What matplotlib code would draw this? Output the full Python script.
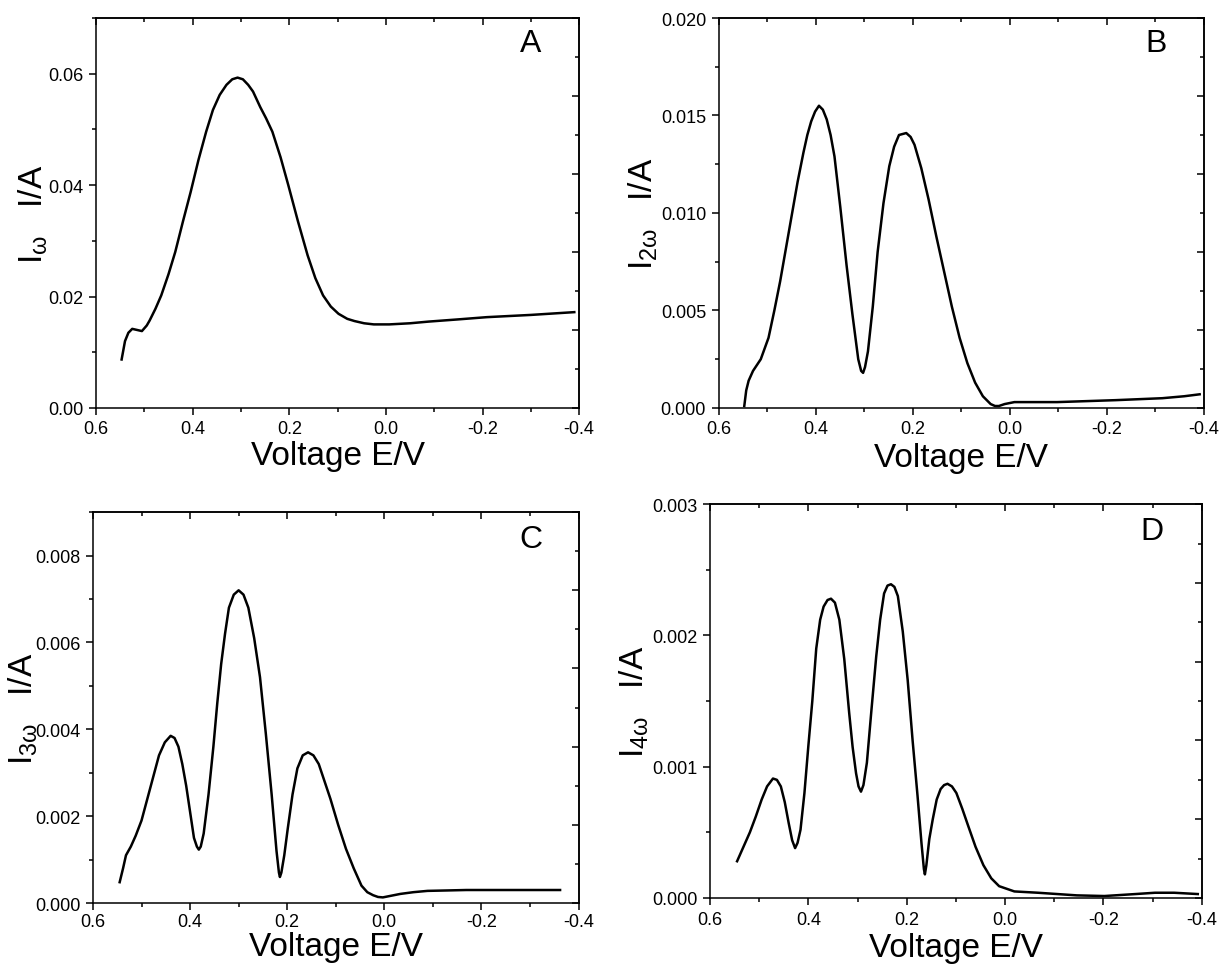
import matplotlib
matplotlib.use("Agg")
import matplotlib.pyplot as plt
from matplotlib.ticker import MultipleLocator, FormatStrFormatter, NullFormatter

plt.rcParams['font.family'] = ['Liberation Sans', 'DejaVu Sans']
plt.rcParams['axes.unicode_minus'] = False
plt.rcParams['mathtext.fontset'] = 'custom'
plt.rcParams['mathtext.rm'] = 'Liberation Sans'

# panel A: fundamental harmonic
a_volt = [0.547, 0.540, 0.533, 0.525, 0.515, 0.505, 0.495, 0.489, 0.477, 0.465,
          0.450, 0.436, 0.420, 0.404, 0.388, 0.372, 0.358, 0.344, 0.330, 0.318,
          0.307, 0.296, 0.285, 0.275, 0.260, 0.248, 0.235, 0.218, 0.202, 0.182,
          0.162, 0.146, 0.130, 0.114, 0.098, 0.080, 0.065, 0.045, 0.025, 0.005,
          -0.007, -0.05, -0.088, -0.15, -0.209, -0.30, -0.39]
a_curr = [0.0087, 0.0120, 0.0135, 0.0142, 0.0140, 0.0138, 0.0148, 0.0157, 0.0178, 0.0202,
          0.0240, 0.0280, 0.0335, 0.0388, 0.0445, 0.0496, 0.0535, 0.0562, 0.0580, 0.0590,
          0.0593, 0.0590, 0.0580, 0.0568, 0.0540, 0.0520, 0.0496, 0.0450, 0.0400, 0.0335,
          0.0274, 0.0233, 0.0202, 0.0182, 0.0169, 0.0160, 0.0156, 0.0152, 0.0150, 0.0150,
          0.0150, 0.0152, 0.0155, 0.0159, 0.0163, 0.0167, 0.0172]

# panel B: 2nd harmonic
b_volt = [0.547, 0.543, 0.538, 0.529, 0.513, 0.497, 0.485, 0.473, 0.461, 0.449,
          0.437, 0.425, 0.417, 0.409, 0.401, 0.393, 0.385, 0.377, 0.369, 0.361,
          0.349, 0.336, 0.324, 0.312, 0.306, 0.302, 0.298, 0.292, 0.282, 0.272,
          0.260, 0.248, 0.238, 0.228, 0.213, 0.204, 0.196, 0.182, 0.167, 0.151,
          0.135, 0.119, 0.103, 0.087, 0.071, 0.055, 0.039, 0.030, 0.022, 0.010,
          -0.01, -0.098, -0.219, -0.315, -0.360, -0.392]
b_curr = [0.0001, 0.0009, 0.0014, 0.0019, 0.0025, 0.0036, 0.0050, 0.0065, 0.0082, 0.0099,
          0.0116, 0.0131, 0.0140, 0.0147, 0.0152, 0.0155, 0.0153, 0.0148, 0.0140, 0.0129,
          0.0103, 0.0073, 0.0048, 0.0025, 0.0019, 0.0018, 0.0021, 0.0029, 0.0052, 0.0080,
          0.0105, 0.0124, 0.0134, 0.0140, 0.0141, 0.0139, 0.0135, 0.0123, 0.0107, 0.0088,
          0.0070, 0.0052, 0.0036, 0.0023, 0.0013, 0.0006, 0.0002, 0.0001, 0.0001, 0.0002,
          0.0003, 0.0003, 0.0004, 0.0005, 0.0006, 0.0007]

# panel C: 3rd harmonic
c_volt = [0.545, 0.538, 0.532, 0.522, 0.512, 0.500, 0.488, 0.476, 0.464, 0.452,
          0.440, 0.432, 0.424, 0.416, 0.408, 0.400, 0.392, 0.386, 0.382, 0.378,
          0.372, 0.362, 0.352, 0.344, 0.336, 0.328, 0.320, 0.310, 0.300, 0.290,
          0.280, 0.268, 0.256, 0.244, 0.232, 0.222, 0.217, 0.215, 0.212, 0.206,
          0.199, 0.189, 0.179, 0.168, 0.157, 0.146, 0.135, 0.123, 0.111, 0.095,
          0.079, 0.063, 0.047, 0.035, 0.023, 0.013, 0.003, -0.015, -0.033, -0.06,
          -0.089, -0.13, -0.169, -0.25, -0.362]
c_curr = [0.00048, 0.0008, 0.0011, 0.0013, 0.00155, 0.0019, 0.0024, 0.0029, 0.0034, 0.0037,
          0.00385, 0.0038, 0.0036, 0.0032, 0.0027, 0.0021, 0.0015, 0.0013, 0.00123, 0.0013,
          0.0016, 0.0025, 0.0036, 0.0046, 0.0055, 0.0062, 0.0068, 0.0071, 0.0072, 0.0071,
          0.0068, 0.0061, 0.0052, 0.0039, 0.0025, 0.0012, 0.0007, 0.0006, 0.0007, 0.0011,
          0.0017, 0.0025, 0.0031, 0.0034, 0.00347, 0.0034, 0.0032, 0.0028, 0.0024, 0.0018,
          0.00125, 0.0008, 0.0004, 0.00025, 0.00018, 0.00014, 0.00013, 0.00017, 0.00021, 0.00025,
          0.00028, 0.00029, 0.0003, 0.0003, 0.0003]

# panel D: 4th harmonic
d_volt = [0.545, 0.532, 0.519, 0.507, 0.495, 0.484, 0.472, 0.464, 0.456, 0.448,
          0.440, 0.433, 0.427, 0.422, 0.416, 0.408, 0.400, 0.392, 0.384, 0.376,
          0.369, 0.361, 0.354, 0.346, 0.337, 0.327, 0.317, 0.310, 0.303, 0.298,
          0.293, 0.288, 0.281, 0.272, 0.262, 0.254, 0.246, 0.239, 0.232, 0.225,
          0.218, 0.208, 0.198, 0.188, 0.178, 0.170, 0.165, 0.163, 0.160, 0.154,
          0.147, 0.139, 0.131, 0.124, 0.117, 0.108, 0.099, 0.087, 0.075, 0.060,
          0.044, 0.028, 0.012, -0.019, -0.067, -0.146, -0.202, -0.265, -0.305, -0.344,
          -0.392]
d_curr = [0.00028, 0.00039, 0.0005, 0.00062, 0.00075, 0.00085, 0.00091, 0.0009, 0.00085, 0.00073,
          0.00057, 0.00044, 0.00038, 0.00042, 0.00052, 0.0008, 0.00116, 0.0015, 0.0019, 0.00212,
          0.00222, 0.00227, 0.00228, 0.00225, 0.00212, 0.00182, 0.00141, 0.00115, 0.00095, 0.00085,
          0.00081, 0.00086, 0.00103, 0.00142, 0.00184, 0.00212, 0.00232, 0.00238, 0.00239, 0.00237,
          0.0023, 0.00203, 0.00166, 0.0012, 0.00078, 0.00042, 0.00022, 0.00018, 0.00025, 0.00045,
          0.0006, 0.00075, 0.00083, 0.00086, 0.00087, 0.00085, 0.0008, 0.00068, 0.00055, 0.00039,
          0.00025, 0.00015, 0.00009, 0.00005, 0.00004, 0.00002, 0.000015, 0.00003, 0.00004, 0.00004,
          0.00003]

panel_letters = ['A', 'B', 'C', 'D']
y_labels = ['I$\\mathregular{_{\u03c9}}$   I/A', 'I$\\mathregular{_{2\u03c9}}$   I/A',
            'I$\\mathregular{_{3\u03c9}}$   I/A', 'I$\\mathregular{_{4\u03c9}}$   I/A']
y_max = [0.07, 0.020, 0.009, 0.003]
y_major = [0.02, 0.005, 0.002, 0.001]
y_fmt = ['%.2f', '%.3f', '%.3f', '%.3f']

# axes rectangles in figure fraction
rects = [[0.0787, 0.5784, 0.396, 0.402],
         [0.589, 0.5784, 0.3975, 0.402],
         [0.0762, 0.068, 0.398, 0.403],
         [0.582, 0.0732, 0.403, 0.406]]
label_x = [-0.095, -0.12, -0.11, -0.12]
x_pad = [4, 4, 2, 4.5]
x_labelpad = [2, 3, 1, 3]
letter_pos = [(0.90, 0.936), (0.903, 0.936), (0.903, 0.931), (0.898, 0.931)]

fig = plt.figure(figsize=(12.2, 9.7), dpi=100)

data = [(a_volt, a_curr), (b_volt, b_curr), (c_volt, c_curr), (d_volt, d_curr)]

for i in range(4):
    ax = fig.add_axes(rects[i])
    xs, ys = data[i]
    ax.plot(xs, ys, color='black', lw=1.8)
    ax.set_xlim(0.6, -0.4)
    ax.set_ylim(0, y_max[i])

    ax.xaxis.set_major_locator(MultipleLocator(0.2))
    ax.xaxis.set_minor_locator(MultipleLocator(0.1))
    ax.xaxis.set_major_formatter(FormatStrFormatter('%.1f'))
    ax.yaxis.set_major_locator(MultipleLocator(y_major[i]))
    ax.yaxis.set_minor_locator(MultipleLocator(y_major[i] / 2))
    ax.yaxis.set_major_formatter(FormatStrFormatter(y_fmt[i]))
    ax.tick_params(which='major', direction='out', length=5, width=1.1, labelsize=13, pad=4)
    ax.tick_params(which='minor', direction='out', length=3, width=1.1)
    ax.tick_params(axis='x', which='major', pad=x_pad[i])
    for sp in ax.spines.values():
        sp.set_linewidth(1.1)

    # inward ticks on the top and right frame
    top = ax.secondary_xaxis('top')
    top.xaxis.set_major_locator(MultipleLocator(0.2))
    top.xaxis.set_minor_locator(MultipleLocator(0.1))
    top.xaxis.set_major_formatter(NullFormatter())
    top.tick_params(which='major', direction='in', length=5, width=1.1)
    top.tick_params(which='minor', direction='in', length=3, width=1.1)
    top.spines['top'].set_linewidth(1.1)

    m = y_max[i]
    right = ax.secondary_yaxis('right', functions=(lambda y, m=m: y / m * 10,
                                                   lambda v, m=m: v * m / 10))
    right.yaxis.set_major_locator(MultipleLocator(2))
    right.yaxis.set_minor_locator(MultipleLocator(1))
    right.yaxis.set_major_formatter(NullFormatter())
    right.tick_params(which='major', direction='in', length=5, width=1.1)
    right.tick_params(which='minor', direction='in', length=3, width=1.1)
    right.spines['right'].set_linewidth(1.1)

    ax.set_xlabel('Voltage E/V', fontsize=24, labelpad=x_labelpad[i])
    ax.set_ylabel(y_labels[i], fontsize=24)
    ax.yaxis.set_label_coords(label_x[i], 0.5)
    ax.text(letter_pos[i][0], letter_pos[i][1], panel_letters[i], transform=ax.transAxes,
            fontsize=23, ha='center', va='center')

fig.savefig('out.png', dpi=100)
